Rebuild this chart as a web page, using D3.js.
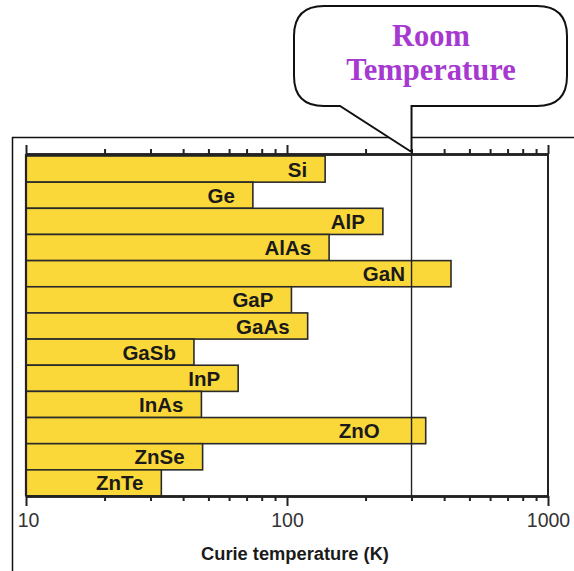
<!DOCTYPE html>
<html>
<head>
<meta charset="utf-8">
<script src="https://cdn.jsdelivr.net/npm/d3@7/dist/d3.min.js"></script>
<style>
  html, body { margin: 0; padding: 0; background: #fff; }
  svg { display: block; }
</style>
</head>
<body>
<svg id="chart" width="574" height="571"></svg>
<script>
// ---- data ----
const materials = ["Si", "Ge", "AlP", "AlAs", "GaN", "GaP", "GaAs", "GaSb", "InP", "InAs", "ZnO", "ZnSe", "ZnTe"];
const curieTemps = [140, 74, 233, 145, 425, 104, 120, 44, 65, 47, 340, 47.5, 33];
const majorTicks = [10, 100, 1000];
const minorTicks = [20, 30, 40, 50, 60, 70, 80, 90, 200, 300, 400, 500, 600, 700, 800, 900];
const roomTemp = 300;
const axisTitle = "Curie temperature (K)";
const calloutLines = ["Room", "Temperature"];

// ---- layout ----
const svg = d3.select("#chart");
const plotL = 26, plotR = 548, plotT = 154, plotB = 496;

const x = d3.scaleLog().domain([10, 1000]).range([plotL, plotR]);
const y = d3.scaleBand().domain(materials).range([156, 496]).padding(0);

// outer frame (top and left rules)
svg.append("line").attr("x1", 12).attr("x2", 574).attr("y1", 137.5).attr("y2", 137.5)
  .attr("stroke", "#111").attr("stroke-width", 1.3);
svg.append("line").attr("x1", 12.5).attr("x2", 12.5).attr("y1", 137).attr("y2", 571)
  .attr("stroke", "#111").attr("stroke-width", 1.5);

// bars
const data = materials.map((m, i) => ({ m, v: curieTemps[i] }));
svg.append("g").selectAll("rect").data(data).join("rect")
  .attr("x", x(10))
  .attr("y", d => y(d.m))
  .attr("width", d => x(d.v) - x(10))
  .attr("height", y.bandwidth())
  .attr("fill", "#fbd83a")
  .attr("stroke", "#2a2a2a")
  .attr("stroke-width", 1.6);

// bar labels
svg.append("g").selectAll("text").data(data).join("text")
  .attr("x", d => d.v > roomTemp ? x(d.v) - 46 : x(d.v) - 18)
  .attr("y", d => y(d.m) + y.bandwidth() / 2 + 7.5)
  .attr("text-anchor", "end")
  .attr("font-family", "Liberation Sans, Arial, sans-serif")
  .attr("font-weight", "bold")
  .attr("font-size", 20.5)
  .attr("fill", "#1a1a1a")
  .text(d => d.m);

// room temperature line
svg.append("line")
  .attr("x1", x(roomTemp)).attr("x2", x(roomTemp))
  .attr("y1", plotT).attr("y2", plotB)
  .attr("stroke", "#222").attr("stroke-width", 1.4);

// left/right axis lines
svg.append("line").attr("x1", plotL).attr("x2", plotL).attr("y1", plotT).attr("y2", plotB)
  .attr("stroke", "#222").attr("stroke-width", 2.2);
svg.append("line").attr("x1", plotR).attr("x2", plotR).attr("y1", plotT).attr("y2", plotB)
  .attr("stroke", "#222").attr("stroke-width", 2);

function styleAxis(g) {
  g.select(".domain").attr("stroke", "#222").attr("stroke-width", 2.6);
  g.selectAll(".tick line").attr("stroke", "#222").attr("stroke-width", 2);
}

// top axis
const gTopMinor = svg.append("g").attr("transform", `translate(0,${plotT})`)
  .call(d3.axisTop(x).tickValues(minorTicks).tickSize(5).tickFormat("").tickSizeOuter(0));
styleAxis(gTopMinor);
const gTopMajor = svg.append("g").attr("transform", `translate(0,${plotT})`)
  .call(d3.axisTop(x).tickValues(majorTicks).tickSize(9).tickFormat("").tickSizeOuter(0));
styleAxis(gTopMajor);

// bottom axis
const gBotMinor = svg.append("g").attr("transform", `translate(0,${plotB})`)
  .call(d3.axisBottom(x).tickValues(minorTicks).tickSize(5).tickFormat("").tickSizeOuter(0));
styleAxis(gBotMinor);
const gBotMajor = svg.append("g").attr("transform", `translate(0,${plotB})`)
  .call(d3.axisBottom(x).tickValues(majorTicks).tickSize(10).tickPadding(7)
    .tickFormat(d3.format("d")).tickSizeOuter(0));
styleAxis(gBotMajor);
gBotMajor.selectAll(".tick text")
  .attr("font-family", "Liberation Sans, Arial, sans-serif")
  .attr("font-size", 19.5)
  .attr("fill", "#333");
gBotMajor.selectAll(".tick text").filter(d => d === 10).attr("dx", 2);

// axis title
svg.append("text")
  .attr("x", 295).attr("y", 560)
  .attr("text-anchor", "middle")
  .attr("font-family", "Liberation Sans, Arial, sans-serif")
  .attr("font-weight", "bold")
  .attr("font-size", 18.3)
  .attr("fill", "#1a1a1a")
  .text(axisTitle);

// callout bubble
const bx0 = 294, bx1 = 567, by0 = 6, by1 = 106, r = 30;
const tipX = x(roomTemp), tipY = 152;
const tailL = 340, tailR = tipX;
const path = d3.path();
path.moveTo(bx0 + r, by0);
path.lineTo(bx1 - r, by0);
path.quadraticCurveTo(bx1, by0, bx1, by0 + r);
path.lineTo(bx1, by1 - r);
path.quadraticCurveTo(bx1, by1, bx1 - r, by1);
path.lineTo(tailR, by1);
path.lineTo(tipX, tipY);
path.lineTo(tailL, by1);
path.lineTo(bx0 + r, by1);
path.quadraticCurveTo(bx0, by1, bx0, by1 - r);
path.lineTo(bx0, by0 + r);
path.quadraticCurveTo(bx0, by0, bx0 + r, by0);
path.closePath();
svg.append("path").attr("d", path.toString())
  .attr("fill", "#fff").attr("stroke", "#111").attr("stroke-width", 2);

svg.append("g").selectAll("text").data(calloutLines).join("text")
  .attr("x", 431)
  .attr("y", (d, i) => 46 + i * 34)
  .attr("text-anchor", "middle")
  .attr("font-family", "Liberation Serif, Times New Roman, serif")
  .attr("font-weight", "bold")
  .attr("font-size", 30.5)
  .attr("fill", "#a63ad0")
  .text(d => d);
</script>
</body>
</html>
